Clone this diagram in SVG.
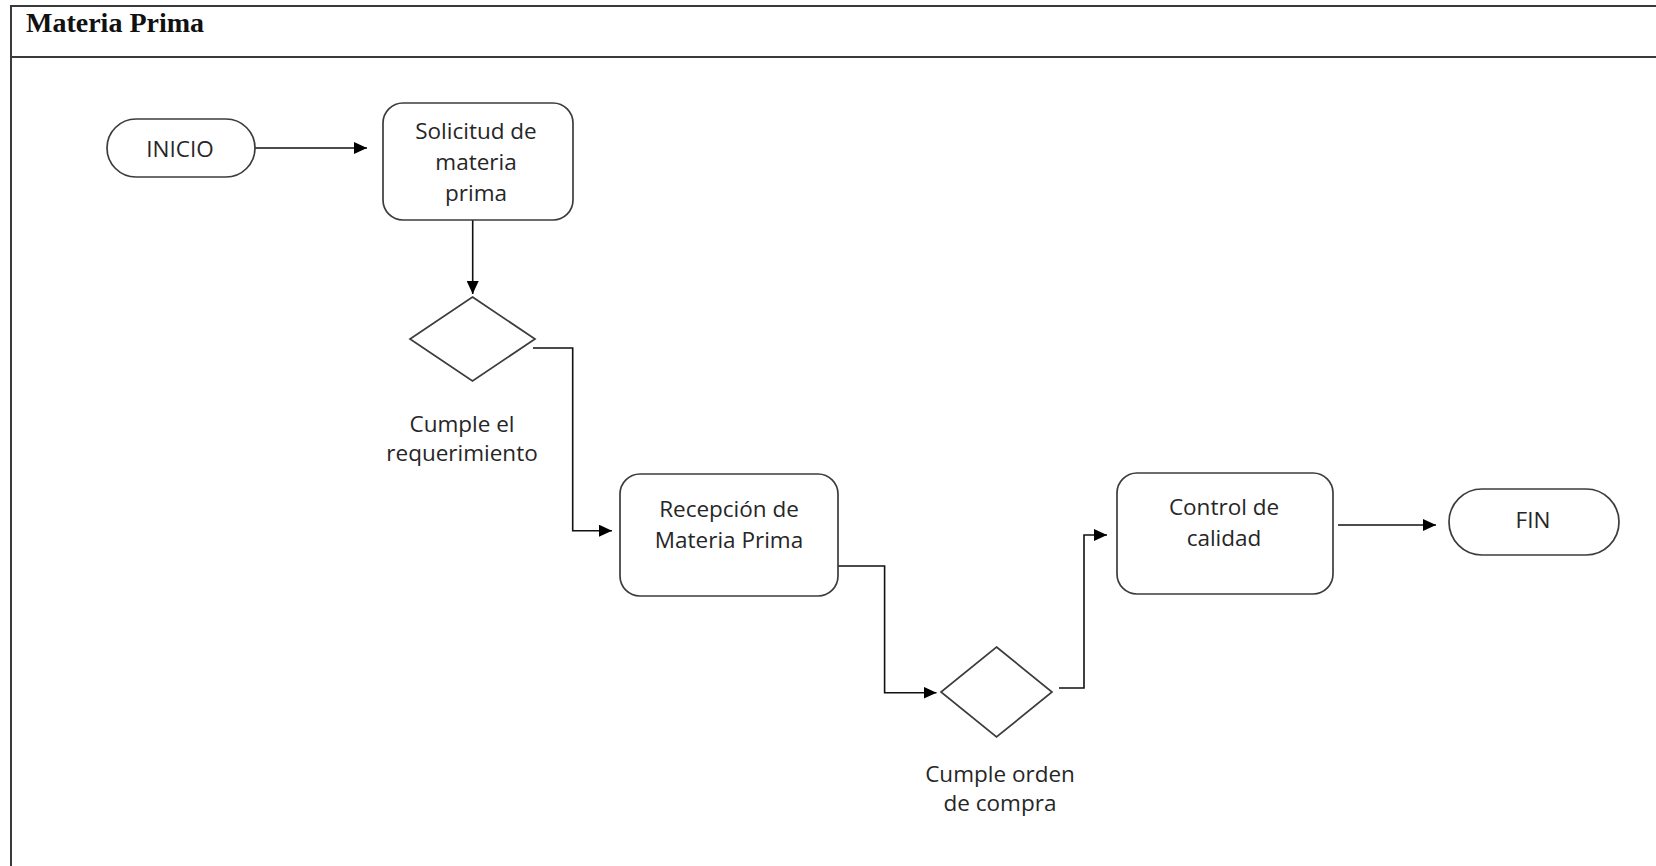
<svg xmlns="http://www.w3.org/2000/svg" width="1656" height="866" viewBox="0 0 1656 866">
  <defs>
    <marker id="arrow" markerUnits="userSpaceOnUse" markerWidth="13" markerHeight="12" refX="13" refY="6" orient="auto">
      <path d="M0,0 L13,6 L0,12 z" fill="#000"/>
    </marker>
    <style>
      .frame { stroke: #3a3a3a; stroke-width: 2; fill: none; }
      .title { font-family: "Liberation Serif", "Times New Roman", serif; font-weight: bold; font-size: 28px; fill: #111; }
      .shape { fill: #fff; stroke: #3c3c3c; stroke-width: 1.7; }
      .label { font-family: "Open Sans", "Noto Sans", sans-serif; font-size: 22.5px; fill: #262626; text-anchor: middle; }
      .conn { fill: none; stroke: #111; stroke-width: 1.6; }
    </style>
  </defs>

  <rect width="1656" height="866" fill="#fff"/>

  <!-- Swimlane frame -->
  <g id="lane">
    <line class="frame" x1="11" y1="6" x2="1656" y2="6"/>
    <line class="frame" x1="11" y1="57" x2="1656" y2="57"/>
    <line class="frame" x1="11" y1="5" x2="11" y2="866"/>
    <text class="title" x="26" y="32">Materia Prima</text>
  </g>

  <!-- Connectors -->
  <g id="connectors">
    <path class="conn" d="M255,148 H367" marker-end="url(#arrow)"/>
    <path class="conn" d="M472.7,220 V294" marker-end="url(#arrow)"/>
    <path class="conn" d="M533,348 H572.7 V530.7 H612" marker-end="url(#arrow)"/>
    <path class="conn" d="M834,566 H884.6 V692.7 H936.5" marker-end="url(#arrow)"/>
    <path class="conn" d="M1059,688 H1084 V535 H1107" marker-end="url(#arrow)"/>
    <path class="conn" d="M1338,525 H1436" marker-end="url(#arrow)"/>
  </g>

  <g id="inicio">
    <rect class="shape" x="107" y="119" width="148" height="58" rx="29"/>
    <text class="label" x="180" y="157">INICIO</text>
  </g>

  <g id="solicitud">
    <rect class="shape" x="383" y="103" width="190" height="117" rx="20"/>
    <text class="label" x="476" y="139">Solicitud de</text>
    <text class="label" x="476" y="170">materia</text>
    <text class="label" x="476" y="201">prima</text>
  </g>

  <g id="decision-requerimiento">
    <polygon class="shape" points="472.5,297 535,339 472.5,381 410,339"/>
    <text class="label" x="462" y="432">Cumple el</text>
    <text class="label" x="462" y="461">requerimiento</text>
  </g>

  <g id="recepcion">
    <rect class="shape" x="620" y="474" width="218" height="122" rx="20"/>
    <text class="label" x="729" y="517">Recepción de</text>
    <text class="label" x="729" y="548">Materia Prima</text>
  </g>

  <g id="decision-orden">
    <polygon class="shape" points="996.5,647 1052,692 996.5,737 941,692"/>
    <text class="label" x="1000" y="782">Cumple orden</text>
    <text class="label" x="1000" y="811">de compra</text>
  </g>

  <g id="control">
    <rect class="shape" x="1117" y="473" width="216" height="121" rx="20"/>
    <text class="label" x="1224" y="515">Control de</text>
    <text class="label" x="1224" y="546">calidad</text>
  </g>

  <g id="fin">
    <rect class="shape" x="1449" y="489" width="170" height="66" rx="33"/>
    <text class="label" x="1533" y="528">FIN</text>
  </g>
</svg>
